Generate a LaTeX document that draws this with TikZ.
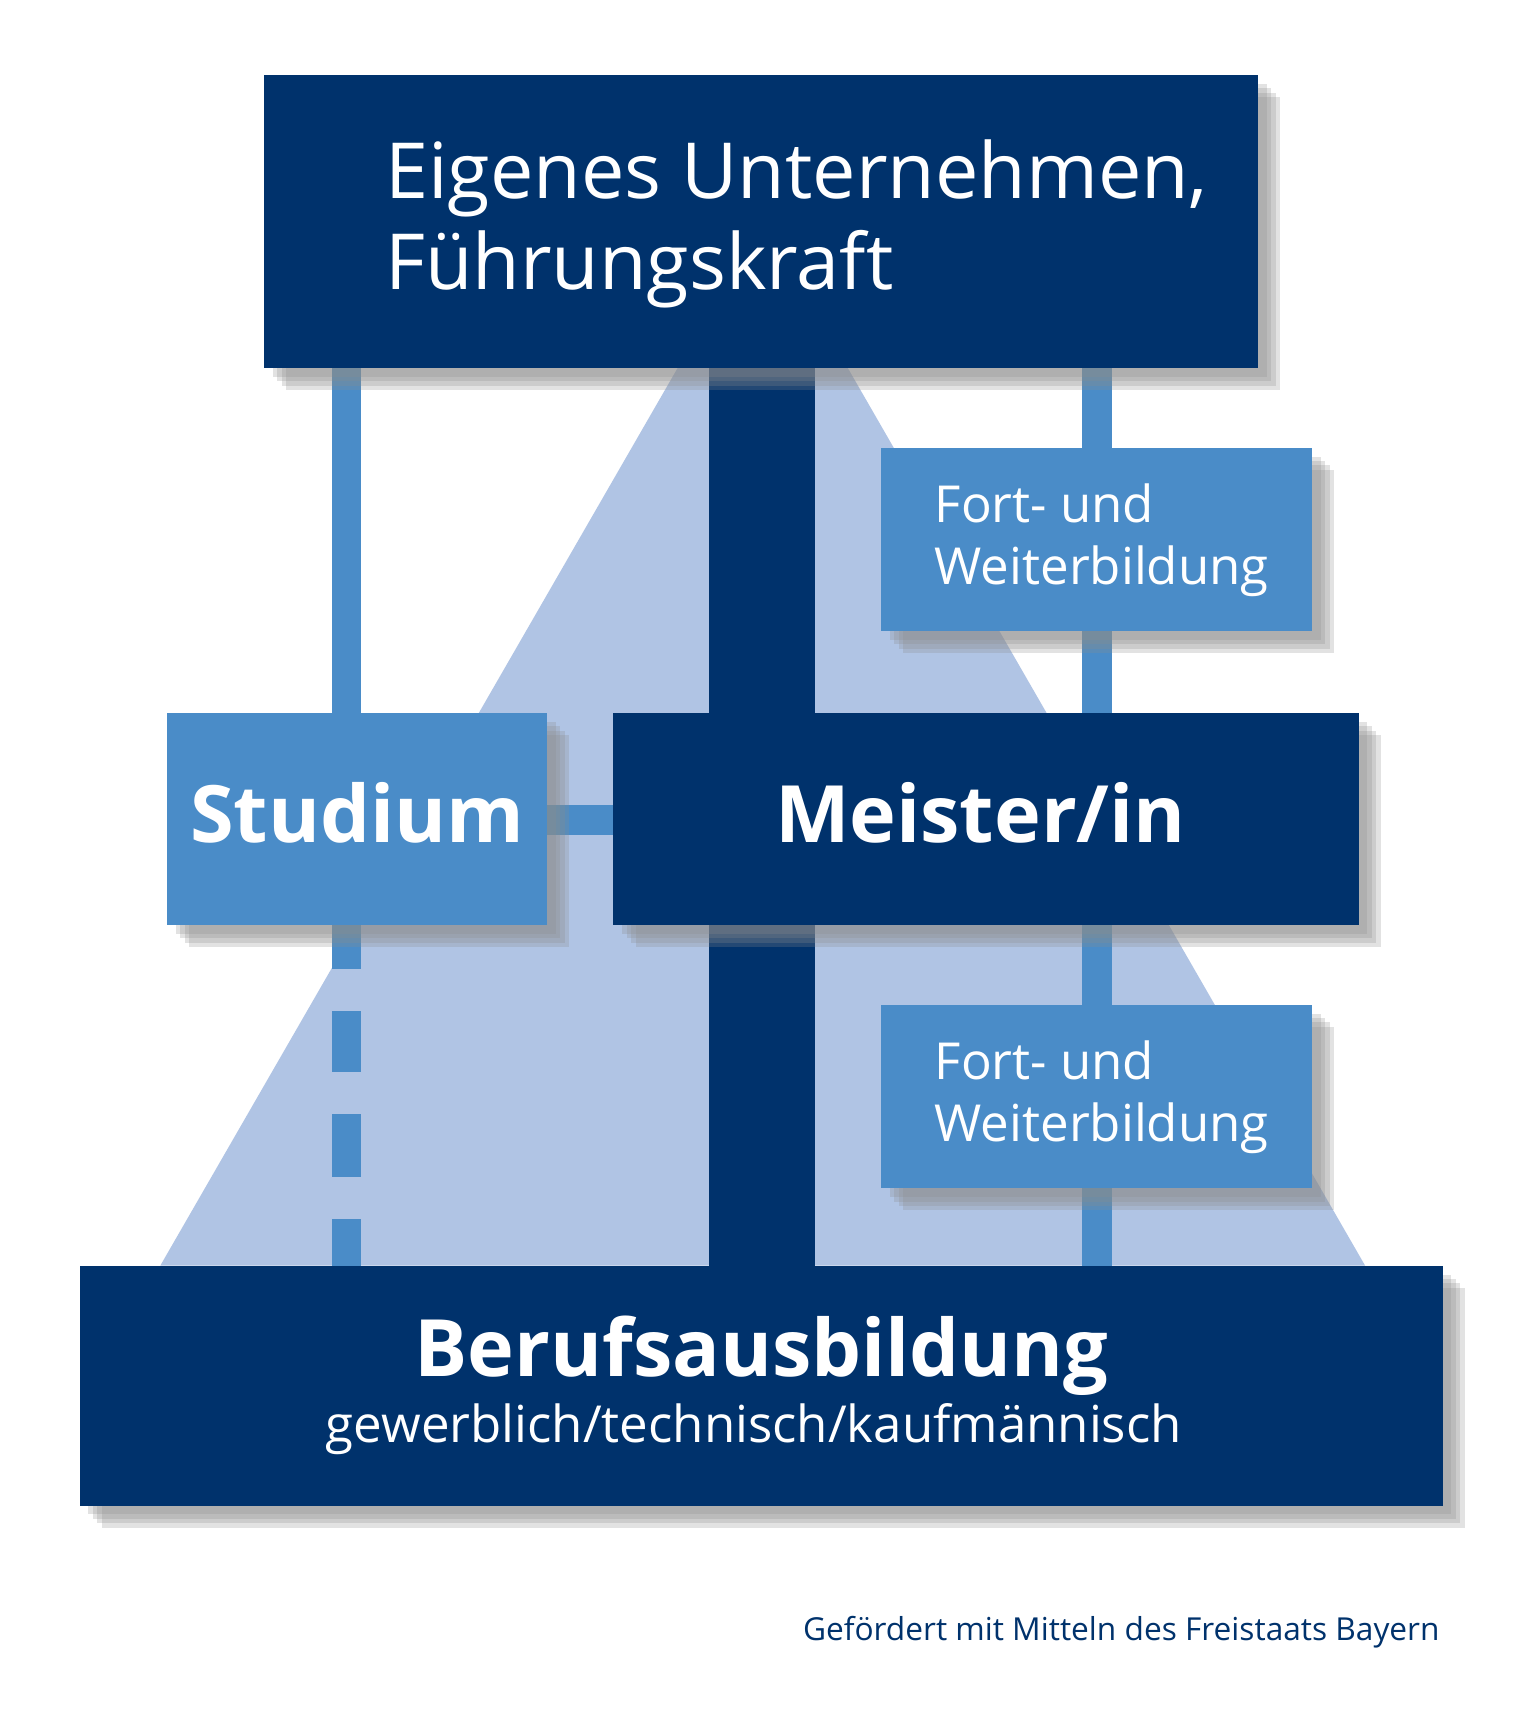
\documentclass[tikz,border=0pt]{standalone}
\usepackage{fontspec}
\setmainfont{Open Sans}
\definecolor{navy}{RGB}{0,50,108}
\definecolor{mid}{RGB}{74,140,200}
\definecolor{light}{RGB}{176,196,228}
\begin{document}
\begin{tikzpicture}[x=0.01105cm,y=-0.01105cm,
  shad/.style={fill=black!45,opacity=0.25},
  dark/.style={fill=navy},
  medb/.style={fill=mid},
  wtxt/.style={text=white,align=left,inner sep=0,anchor=base west}]
\useasboundingbox (0,0) rectangle (1376,1566);
\fill[white] (0,0) rectangle (1376,1566);
% trapezoid
\fill[light] (613,333) -- (767,333) -- (1235,1145) -- (145,1145) -- cycle;
% lines
\fill[mid] (300,333) rectangle (327,645);
\foreach \a/\b in {837/877,915/970,1008/1065,1103/1145}{\fill[mid] (300,\a) rectangle (327,\b);}
\fill[mid] (979,333) rectangle (1006,1145);
\fill[mid] (495,728) rectangle (555,755);
\fill[navy] (641,333) rectangle (737,1145);
% shadows
\newcommand\shbox[4]{\foreach \d in {8,12,16,20}{\fill[shad] (#1+\d,#2+\d) rectangle (#3+\d,#4+\d);}}
\shbox{239}{68}{1138}{333}
\shbox{797}{405}{1187}{571}
\shbox{797}{909}{1187}{1075}
\shbox{151}{645}{495}{837}
\shbox{555}{645}{1229}{837}
\shbox{72}{1145}{1305}{1362}
% boxes
\fill[dark] (239,68) rectangle (1138,333) coordinate (topbox);
\fill[medb] (797,405) rectangle (1187,571);
\fill[medb] (797,909) rectangle (1187,1075);
\fill[medb] (151,645) rectangle (495,837);
\fill[dark] (555,645) rectangle (1229,837);
\fill[dark] (72,1145) rectangle (1305,1362);
% texts
\node[wtxt,font=\fontsize{22}{26}\selectfont] (t1) at (348,180) {Eigenes Unternehmen,};
\node[wtxt,font=\fontsize{22}{26}\selectfont] (t2) at (348,262) {Führungskraft};
\node[wtxt,font=\fontsize{14.5}{17}\selectfont] (f1) at (845,473) {Fort- und};
\node[wtxt,font=\fontsize{14.5}{17}\selectfont] (f2) at (845,529) {Weiterbildung};
\node[wtxt,font=\fontsize{14.5}{17}\selectfont] (f3) at (845,977) {Fort- und};
\node[wtxt,font=\fontsize{14.5}{17}\selectfont] (f4) at (845,1033) {Weiterbildung};
\node[text=white,inner sep=0,anchor=base,font=\bfseries\fontsize{22.5}{26}\selectfont] (st) at (323,762) {Studium};
\node[text=white,inner sep=0,anchor=base,font=\bfseries\fontsize{22.5}{26}\selectfont] (me) at (887,762) {Meister/in};
\node[text=white,inner sep=0,anchor=base,font=\bfseries\fontsize{22.5}{26}\selectfont] (be) at (689,1245) {Berufsausbildung};
\node[text=white,inner sep=0,anchor=base,font=\fontsize{14.5}{17}\selectfont] (ge) at (682,1305) {gewerblich/technisch/kaufmännisch};
\node[text=navy,inner sep=0,anchor=base east,font=\fontsize{9}{11}\selectfont] (ft) at (1303,1484) {Gefördert mit Mitteln des Freistaats Bayern};
\end{tikzpicture}
\end{document}
